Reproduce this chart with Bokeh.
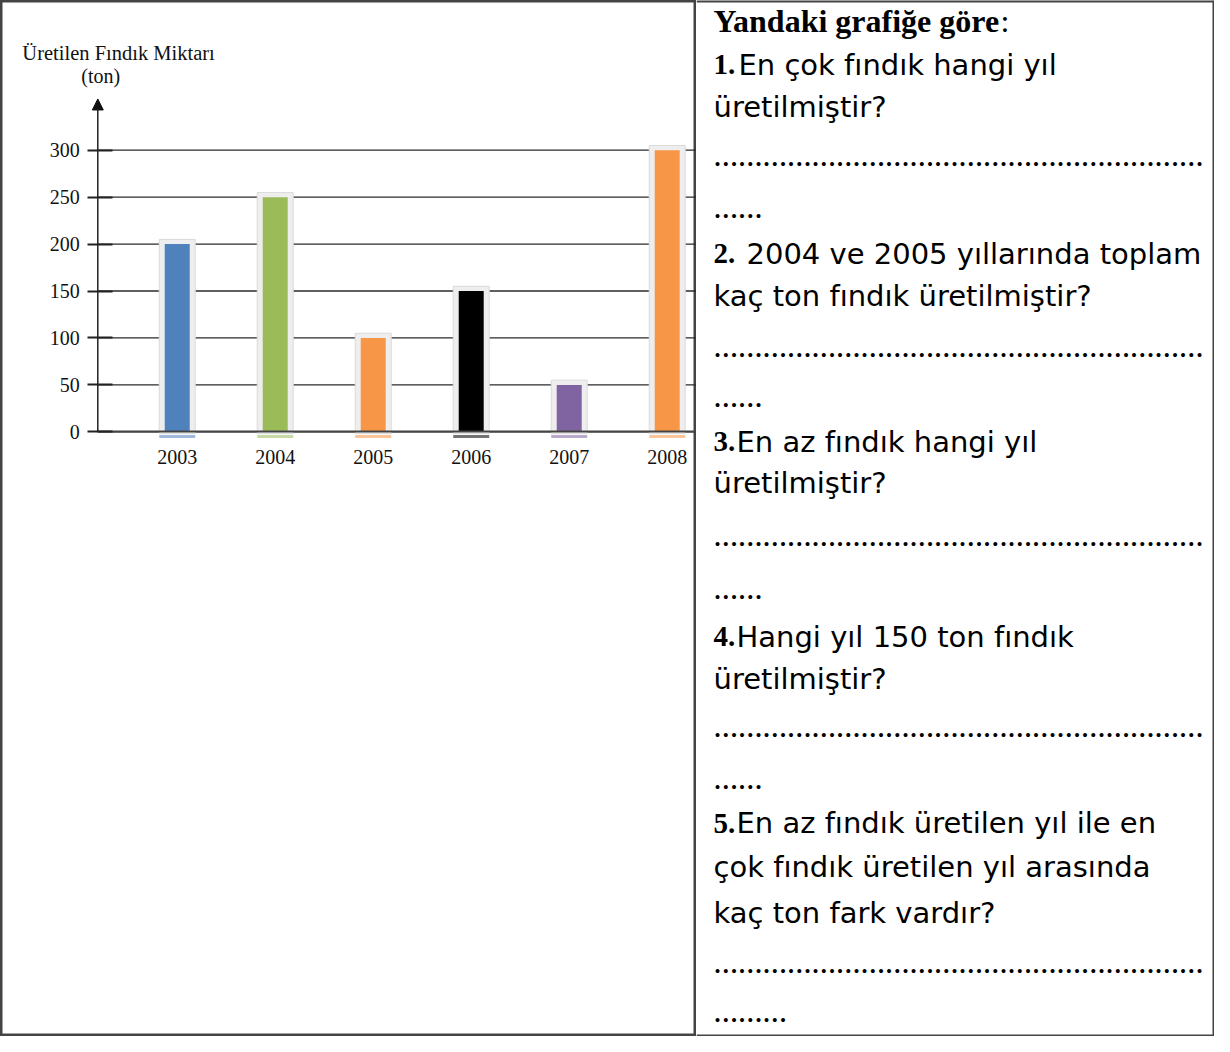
from bokeh.plotting import figure
from bokeh.models import Range1d, FixedTicker, ColumnDataSource, Arrow, NormalHead, Span
from bokeh.layouts import row
from bokeh.embed import file_html
from bokeh.resources import INLINE
from bokeh.core.properties import value

# ---------------- data ----------------
years = ["2003", "2004", "2005", "2006", "2007", "2008"]
production = [200, 250, 100, 150, 50, 300]
bar_colors = ["#4F81BD", "#9BBB59", "#F79646", "#000000", "#8064A2", "#F79646"]
y_ticks = [0, 50, 100, 150, 200, 250, 300]
chart_title = "Üretilen Fındık Miktarı"
unit_label = "(ton)"

heading = "Yandaki grafiğe göre"
q_numbers = ["1.", "2.", "3.", "4.", "5."]
q_lines = [
    ["En çok fındık hangi yıl", "üretilmiştir?"],
    ["2004 ve 2005 yıllarında toplam", "kaç ton fındık üretilmiştir?"],
    ["En az fındık hangi yıl", "üretilmiştir?"],
    ["Hangi yıl 150 ton fındık", "üretilmiştir?"],
    ["En az fındık üretilen yıl ile en", "çok fındık üretilen yıl arasında", "kaç ton fark vardır?"],
]
answer_dots = ["…" * 20] * 5
answer_tail = ["……", "……", "……", "……", "………"]

# ---------------- layout ----------------
W1, W2, H = 696, 518, 1036
SX = W1 / 701.0
SY = H / 1052.0


def lx(rx):
    return rx * SX


def ly(ry):
    return ry * SY


def mid(baseline_ref, size):
    # vertical middle of the em box for a given reference baseline
    return ly(baseline_ref) - 0.33 * size


X0_PX, DX_PX = lx(178), 98.7 * SX
BASE_PX, TOP_PX = ly(438), ly(152)
PPU = (BASE_PX - TOP_PX) / 300.0
AXIS_PX = lx(98)


def px2x(px):
    return (px - X0_PX) / DX_PX


def px2y(py):
    return (BASE_PX - py) / PPU


SERIF = value("Liberation Serif")
SANS = value("DejaVu Sans")
BORDER = "#444444"

left = figure(width=W1, height=H,
              x_range=Range1d(px2x(0), px2x(W1)),
              y_range=Range1d(px2y(H), px2y(0)),
              output_backend="svg", toolbar_location=None, min_border=0)
left.outline_line_color = BORDER
left.outline_line_width = 4
left.background_fill_color = "white"
left.border_fill_color = "white"
left.grid.visible = False

ax_x = px2x(AXIS_PX)
x_end = px2x(W1)

# horizontal reference lines at the tick values
left.segment(x0=[ax_x] * len(y_ticks), x1=[x_end] * len(y_ticks),
             y0=y_ticks, y1=y_ticks, line_color="#2a2a2a", line_width=1.3)

ya = left.yaxis[0]
ya.ticker = FixedTicker(ticks=y_ticks)
ya.fixed_location = ax_x
ya.bounds = (0, 300)
ya.axis_line_color = None
ya.major_tick_in = 15
ya.major_tick_out = 10
ya.major_tick_line_color = "#222222"
ya.major_tick_line_width = 1.8
ya.minor_tick_line_color = None
ya.major_label_standoff = 8
ya.major_label_text_font = "Liberation Serif"
ya.major_label_text_font_size = "20px"
ya.major_label_text_color = "#111111"

xa = left.xaxis[0]
idx = list(range(len(years)))
xa.ticker = FixedTicker(ticks=idx)
xa.major_label_overrides = {i: y for i, y in zip(idx, years)}
xa.fixed_location = 0
xa.bounds = (ax_x, x_end)
xa.axis_line_color = "#444444"
xa.axis_line_width = 2
xa.major_tick_line_color = None
xa.minor_tick_line_color = None
xa.major_label_standoff = 12
xa.major_label_text_font = "Liberation Serif"
xa.major_label_text_font_size = "20px"
xa.major_label_text_color = "#111111"

src = ColumnDataSource(dict(x=idx, top=production, color=bar_colors,
                            glow=[v + 5 for v in production]))
left.vbar(x="x", width=0.367, bottom=-2, top="glow", source=src,
          fill_color="#EEEEEE", line_color="#DADADA", line_width=1)
left.vbar(x="x", width=0.367, bottom=-6.5, top=-3.5, source=src,
          fill_color="color", fill_alpha=0.55, line_color=None)
left.vbar(x="x", width=0.255, bottom=0, top="top", source=src,
          fill_color="color", line_color=None)

left.add_layout(Arrow(end=NormalHead(size=11, fill_color="#111111", line_color="#111111"),
                      x_start=ax_x, y_start=0, x_end=ax_x, y_end=px2y(ly(100)),
                      line_color="#222222", line_width=1.5))

left.text(x=[px2x(lx(22))], y=[px2y(mid(60, 20.5))], text=[chart_title], text_font=SERIF,
          text_font_size="20.5px", text_baseline="middle", text_align="left",
          text_color="#111111")
left.text(x=[px2x(lx(101))], y=[px2y(mid(83, 20))], text=[unit_label], text_font=SERIF,
          text_font_size="20px", text_baseline="middle", text_align="center",
          text_color="#111111")

# ---------------- right text cell ----------------
right = figure(width=W2, height=H, x_range=Range1d(0, W2), y_range=Range1d(H, 0),
               output_backend="svg", toolbar_location=None, min_border=0,
               x_axis_location=None, y_axis_location=None)
right.grid.visible = False
right.outline_line_color = None
right.add_layout(Span(location=0, dimension="width", line_color=BORDER, line_width=4))
right.add_layout(Span(location=H, dimension="width", line_color=BORDER, line_width=4))
right.add_layout(Span(location=W2, dimension="height", line_color=BORDER, line_width=4))

TX = 17
TXT_SIZE, NUM_SIZE, DOT_SIZE, HEAD_SIZE = 29, 29, 24.5, 32
row_y = [[75, 118, 168, 220], [267, 310, 362, 412], [458, 500, 554, 607],
         [656, 699, 747, 800], [845, 890, 936, 987, 1037]]
rest_x = [42, 50, 40, 40, 40]

num_x, num_y = [], []
sans_x, sans_y, sans_t = [], [], []
dot_x, dot_y, dot_t = [], [], []
for qi, lines in enumerate(q_lines):
    ys = row_y[qi]
    num_x.append(TX); num_y.append(mid(ys[0], NUM_SIZE))
    for li, line in enumerate(lines):
        sans_x.append(rest_x[qi] if li == 0 else TX)
        sans_y.append(mid(ys[li], TXT_SIZE))
        sans_t.append(line)
    n = len(lines)
    dot_x += [TX, TX]
    dot_y += [mid(ys[n], DOT_SIZE), mid(ys[n + 1], DOT_SIZE)]
    dot_t += [answer_dots[qi], answer_tail[qi]]

right.text(x=[TX], y=[mid(31.7, HEAD_SIZE)], text=[heading], text_font=SERIF,
           text_font_style="bold", text_font_size=f"{HEAD_SIZE}px", text_baseline="middle",
           text_color="#000000")
right.text(x=[304], y=[mid(31.7, HEAD_SIZE)], text=[":"], text_font=SERIF,
           text_font_size=f"{HEAD_SIZE}px", text_baseline="middle", text_color="#000000")
right.text(x=num_x, y=num_y, text=q_numbers, text_font=SERIF,
           text_font_style="bold", text_font_size=f"{NUM_SIZE}px", text_baseline="middle",
           text_color="#000000")
right.text(x=sans_x, y=sans_y, text=sans_t, text_font=SANS, text_font_size=f"{TXT_SIZE}px",
           text_baseline="middle", text_color="#000000")
right.text(x=dot_x, y=dot_y, text=dot_t, text_font=SERIF, text_font_style="bold",
           text_font_size=f"{DOT_SIZE}px", text_baseline="middle", text_color="#000000")

layout = row(left, right)
open("out.html", "w").write(file_html(layout, INLINE))
